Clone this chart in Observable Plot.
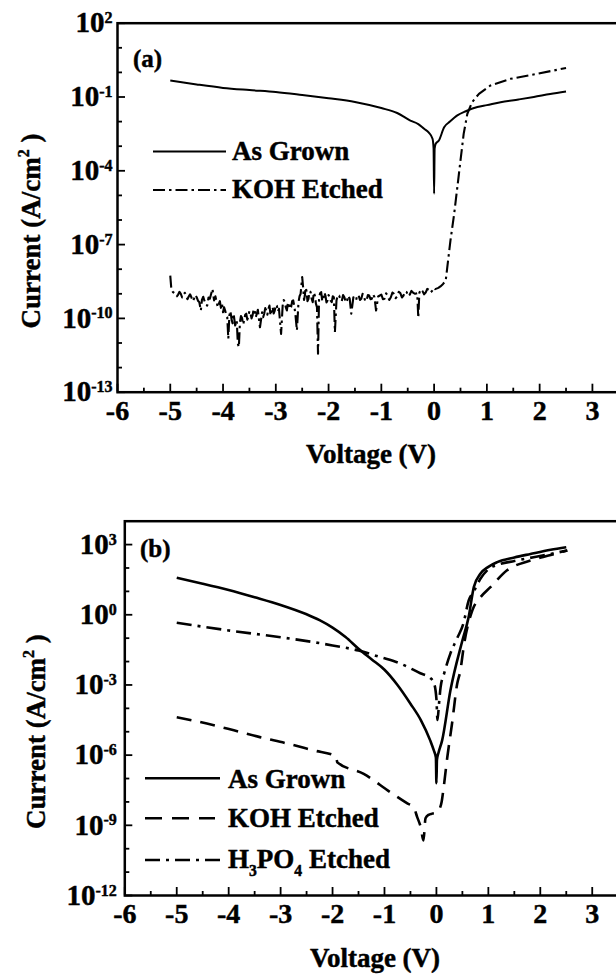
<!DOCTYPE html>
<html><head><meta charset="utf-8">
<script src="https://cdn.jsdelivr.net/npm/d3@7"></script>
<script src="https://cdn.jsdelivr.net/npm/@observablehq/plot@0.6"></script>
<style>
html,body{margin:0;padding:0;background:#fff;overflow:hidden;width:616px;height:977px;}
#wrap{position:relative;width:616px;height:977px;overflow:hidden;}
.panel{width:616px;overflow:hidden;}
svg{display:block;max-width:none !important;}
svg text{stroke:#000;stroke-width:0.45px;}
</style></head><body><div id="wrap"><div class="panel" id="pa" style="height:480px"></div><div class="panel" id="pb" style="height:497px"></div></div>
<script>
// ---------------- shared axis values ----------------
const xMajor = [-6,-5,-4,-3,-2,-1,0,1,2,3];
const xMinor = [-5.5,-4.5,-3.5,-2.5,-1.5,-0.5,0.5,1.5,2.5];

// ---------------- panel (a) ----------------
const aYMajor = [1e2,1e-1,1e-4,1e-7,1e-10,1e-13];
const aYMinor = [1e1,1e0,1e-2,1e-3,1e-5,1e-6,1e-8,1e-9,1e-11,1e-12];
// As Grown: voltage (V) and log10 current density
const aGrownV   = [-5,-4.5,-4,-3.5,-3,-2.5,-2,-1.5,-1,-0.7,-0.45,-0.3,-0.19,-0.1,-0.03,-0.01,0,0.01,0.03,0.09,0.19,0.3,0.44,0.6,0.82,1.0,1.26,1.6,1.89,2.2,2.5];
const aGrownLog = [-0.33,-0.49,-0.63,-0.72,-0.80,-0.92,-1.05,-1.2,-1.45,-1.65,-1.96,-2.1,-2.29,-2.45,-2.7,-3.1,-4.93,-3.1,-2.9,-2.77,-2.23,-2.0,-1.75,-1.58,-1.41,-1.33,-1.21,-1.1,-1.0,-0.88,-0.78];
// KOH Etched: [voltage, log10 current density] read point by point (noisy trace)
const aKohPairs = [
[-5.00,-8.26],[-4.98,-8.80],[-4.95,-8.93],[-4.90,-9.00],[-4.875,-9.10],[-4.85,-9.03],[-4.825,-8.92],[-4.80,-9.00],
[-4.775,-9.15],[-4.75,-9.07],[-4.725,-8.96],[-4.70,-9.04],[-4.675,-9.22],[-4.65,-9.11],[-4.625,-9.02],[-4.60,-9.14],
[-4.575,-9.30],[-4.55,-9.20],[-4.525,-9.05],[-4.50,-9.14],[-4.475,-9.28],[-4.45,-9.34],[-4.42,-9.68],[-4.40,-9.25],
[-4.375,-9.12],[-4.35,-9.30],[-4.325,-9.45],[-4.30,-9.48],[-4.275,-9.15],[-4.25,-9.20],[-4.20,-8.80],[-4.17,-9.27],
[-4.145,-9.10],[-4.12,-9.34],[-4.10,-9.55],[-4.08,-9.41],[-4.06,-9.30],[-4.04,-9.57],[-4.02,-9.40],[-4.00,-9.75],
[-3.98,-9.55],[-3.96,-9.68],[-3.94,-9.85],[-3.92,-9.95],[-3.90,-10.83],[-3.88,-9.88],[-3.86,-9.70],[-3.84,-10.02],
[-3.82,-10.20],[-3.80,-9.81],[-3.77,-10.29],[-3.74,-10.09],[-3.72,-11.03],[-3.70,-11.17],[-3.68,-10.15],[-3.66,-9.90],
[-3.64,-9.98],[-3.62,-10.25],[-3.60,-10.09],[-3.58,-9.85],[-3.56,-9.81],[-3.54,-10.05],[-3.52,-9.92],[-3.50,-9.70],
[-3.48,-9.79],[-3.46,-10.00],[-3.44,-9.88],[-3.42,-9.62],[-3.40,-9.68],[-3.38,-9.95],[-3.36,-9.81],[-3.34,-9.65],
[-3.32,-10.02],[-3.30,-10.36],[-3.26,-9.75],[-3.24,-9.95],[-3.22,-9.81],[-3.20,-9.58],[-3.18,-9.68],[-3.16,-9.85],
[-3.14,-9.61],[-3.12,-9.48],[-3.10,-9.88],[-3.08,-9.65],[-3.06,-9.54],[-3.04,-9.80],[-3.02,-9.68],[-3.00,-9.45],
[-2.98,-9.48],[-2.96,-9.72],[-2.94,-9.61],[-2.90,-10.63],[-2.87,-9.48],[-2.85,-9.25],[-2.83,-9.34],[-2.81,-9.55],
[-2.79,-9.68],[-2.77,-9.35],[-2.75,-9.41],[-2.73,-9.62],[-2.71,-9.54],[-2.69,-9.30],[-2.67,-9.27],[-2.65,-9.50],
[-2.63,-9.81],[-2.60,-10.49],[-2.57,-9.34],[-2.55,-9.10],[-2.53,-9.00],[-2.50,-8.32],[-2.48,-8.80],[-2.465,-9.25],
[-2.45,-9.07],[-2.435,-8.75],[-2.42,-8.87],[-2.40,-9.30],[-2.38,-9.20],[-2.36,-8.90],[-2.34,-8.93],[-2.32,-9.20],
[-2.30,-9.34],[-2.28,-8.95],[-2.26,-9.07],[-2.24,-9.40],[-2.22,-9.54],[-2.20,-11.44],[-2.18,-9.14],[-2.16,-8.98],
[-2.14,-8.93],[-2.12,-9.30],[-2.10,-9.20],[-2.08,-8.95],[-2.06,-9.07],[-2.04,-9.35],[-2.02,-9.27],[-2.00,-9.05],
[-1.98,-9.14],[-1.96,-9.28],[-1.94,-9.34],[-1.92,-9.10],[-1.90,-9.14],[-1.88,-10.56],[-1.85,-9.27],[-1.825,-9.05],
[-1.80,-9.07],[-1.775,-9.22],[-1.75,-9.30],[-1.725,-9.05],[-1.70,-9.14],[-1.675,-9.35],[-1.65,-9.27],[-1.625,-9.08],
[-1.60,-9.20],[-1.57,-9.81],[-1.53,-9.14],[-1.48,-9.27],[-1.455,-9.05],[-1.43,-9.07],[-1.405,-9.25],[-1.38,-9.20],
[-1.355,-9.00],[-1.33,-9.11],[-1.305,-9.30],[-1.28,-9.27],[-1.255,-9.05],[-1.23,-9.07],[-1.205,-9.22],[-1.18,-9.20],
[-1.155,-9.02],[-1.13,-9.14],[-1.10,-9.68],[-1.06,-9.11],[-1.00,-9.03],[-0.97,-9.22],[-0.94,-9.20],[-0.91,-8.98],
[-0.88,-9.07],[-0.85,-9.25],[-0.82,-9.14],[-0.79,-8.95],[-0.76,-9.00],[-0.73,-9.18],[-0.70,-9.11],[-0.67,-8.92],
[-0.64,-8.97],[-0.61,-9.15],[-0.58,-9.07],[-0.55,-8.90],[-0.52,-8.93],[-0.49,-9.10],[-0.46,-9.03],[-0.43,-8.88],
[-0.40,-8.95],[-0.36,-9.00],[-0.32,-8.98],[-0.30,-9.98],[-0.28,-8.96],[-0.25,-8.82],[-0.22,-8.89],[-0.19,-9.02],
[-0.16,-8.95],[-0.13,-8.80],[-0.10,-8.84],[-0.07,-8.95],[-0.04,-8.89],[-0.01,-8.76],[0.02,-8.81],[0.08,-8.76],
[0.12,-8.70],[0.17,-8.60],[0.22,-8.46],[0.25,-7.92],[0.31,-6.83],[0.38,-5.75],[0.44,-4.67],[0.50,-3.58],
[0.56,-2.50],[0.63,-1.68],[0.72,-1.21],[0.85,-0.87],[1.07,-0.53],[1.45,-0.26],[1.95,-0.06],[2.50,0.18]];

// ---------------- panel (b) ----------------
const bYMajor = [1e3,1e0,1e-3,1e-6,1e-9,1e-12];
const bYMinor = [1e2,1e1,1e-1,1e-2,1e-4,1e-5,1e-7,1e-8,1e-10,1e-11];
const bGrownV   = [-5,-4.5,-4,-3.5,-3,-2.5,-2.25,-2,-1.75,-1.5,-1.25,-1,-0.75,-0.5,-0.3,-0.12,-0.05,-0.01,0,0.01,0.04,0.11,0.27,0.5,0.62,0.72,0.85,1.0,1.17,1.5,1.81,2.2,2.5];
const bGrownLog = [1.58,1.33,1.06,0.75,0.42,0.02,-0.23,-0.55,-0.95,-1.45,-1.9,-2.35,-3.0,-3.8,-4.5,-5.37,-5.8,-6.1,-7.2,-6.2,-5.9,-5.37,-3.23,-1.1,-0.1,1.18,1.76,2.05,2.25,2.45,2.6,2.78,2.89];
const bKohV   = [-5,-4.42,-3.9,-3.4,-2.88,-2.36,-1.93,-1.91,-1.4,-0.89,-0.56,-0.44,-0.37,-0.3,-0.25,-0.21,-0.15,-0.08,0,0.06,0.1,0.14,0.21,0.3,0.4,0.46,0.53,0.69,0.85,1.04,1.36,1.81,2.2,2.52];
const bKohLog = [-4.38,-4.65,-4.94,-5.23,-5.5,-5.8,-6.05,-6.3,-6.8,-7.58,-8.06,-8.22,-8.65,-9.1,-9.65,-8.7,-8.55,-8.5,-8.45,-8.3,-8.0,-7.37,-6.08,-4.66,-2.95,-2.4,-1.3,0.18,0.75,1.18,1.9,2.32,2.55,2.75];
const bH3V   = [-5,-4,-3,-2,-1.5,-1.08,-0.69,-0.31,-0.12,-0.05,0,0.02,0.05,0.08,0.15,0.27,0.4,0.52,0.62,0.72,0.85,1.0,1.2,1.5,1.87,2.2,2.52];
const bH3Log = [-0.34,-0.67,-0.96,-1.31,-1.53,-1.81,-2.09,-2.5,-2.7,-2.9,-3.6,-4.5,-3.8,-3.1,-2.5,-1.65,-1.0,-0.37,0.6,1.0,1.55,1.95,2.15,2.3,2.46,2.6,2.75];

const toPts = (V, L) => V.map((v, i) => ({v, j: Math.pow(10, L[i])}));
const pairPts = P => P.map(([v, l]) => ({v, j: Math.pow(10, l)}));
const FONT = '"Liberation Serif","Times New Roman",serif';

function richText(g, parts, attrs, size) {
  const t = g.append("text").attr("font-size", size).attr("font-family", FONT).attr("font-weight", "bold")
    .attr("fill", "black").attr("text-anchor", "start");
  for (const [k, v] of Object.entries(attrs)) t.attr(k, v);
  let shift = 0;
  for (const p of parts) {
    const ts = t.append("tspan").text(p.t);
    const target = p.sup ? -0.42 * size : p.sub ? 0.3 * size : 0;
    if (target !== shift) { ts.attr("dy", target - shift); shift = target; }
    if (p.sup || p.sub) ts.attr("font-size", size * 0.58);
  }
  return t;
}

function buildPanel(cfg) {
  const innerW = cfg.width - cfg.marginLeft - cfg.marginRight;
  const innerH = cfg.height - cfg.marginTop - cfg.marginBottom;
  const marks = [
    Plot.frame({stroke: "black", strokeWidth: 2.5}),
    Plot.tickY(cfg.yMinor, {y: d => d, insetRight: innerW - 5, stroke: "black", strokeWidth: 1.8}),
    Plot.tickY(cfg.yMajor, {y: d => d, insetRight: innerW - 8, stroke: "black", strokeWidth: 1.8}),
    Plot.tickX(xMinor, {x: d => d, insetTop: innerH - 4, stroke: "black", strokeWidth: 1.8}),
    Plot.tickX(xMajor, {x: d => d, insetTop: innerH - 8, stroke: "black", strokeWidth: 1.8}),
    Plot.axisY({ticks: cfg.yMajor, tickSize: 0, tickPadding: cfg.yPad, fontSize: 29,
      tickFormat: d => "10^" + Math.round(Math.log10(d)), label: null}),
    Plot.axisX({ticks: xMajor, tickSize: 0, tickPadding: cfg.xPad, fontSize: 28,
      tickFormat: d => String(d), label: null}),
    ...cfg.series.map(s => Plot.line(s.data, {x: "v", y: "j", stroke: "black", strokeWidth: s.w,
      strokeDasharray: s.dash, strokeLinejoin: "round", strokeLinecap: "butt", curve: s.curve || "linear"}))
  ];
  const svg = Plot.plot({
    width: cfg.width, height: cfg.height,
    marginTop: cfg.marginTop, marginBottom: cfg.marginBottom,
    marginLeft: cfg.marginLeft, marginRight: cfg.marginRight,
    x: {domain: [-6, 3.5]},
    y: {type: "log", domain: cfg.yDomain},
    style: {fontFamily: FONT, fontWeight: "bold", color: "black", background: "white", maxWidth: "none", overflow: "visible"},
    marks
  });
  const s = d3.select(svg);
  s.selectAll('g[aria-label="y-axis tick label"]').attr("font-size", 29);
  s.selectAll('g[aria-label="x-axis tick label"]').attr("font-size", 28);
  // superscript exponents on y tick labels
  s.selectAll('g[aria-label="y-axis tick label"] text').each(function () {
    const [base, exp] = this.textContent.split("^");
    const sel = d3.select(this);
    sel.text(null);
    sel.append("tspan").text(base);
    sel.append("tspan").attr("dy", "-0.58em").attr("font-size", "16px").text(exp);
  });
  return svg;
}

// ---------- Panel (a) ----------
const svgA = buildPanel({
  width: 640, height: 480, marginTop: 22.7, marginBottom: 88.3, marginLeft: 117, marginRight: 21.7,
  yDomain: [1e-13, 1e2], yMajor: aYMajor, yMinor: aYMinor, yPad: 5, xPad: 8,
  series: [
    {data: toPts(aGrownV, aGrownLog), w: 2, curve: "monotone-x"},
    {data: pairPts(aKohPairs), w: 2.1, dash: "12,4,2.5,4"}
  ]
});
document.getElementById("pa").appendChild(svgA);
{
  const g = d3.select(svgA).append("g");
  richText(g, [{t: "(a)"}], {x: 133, y: 67}, 25);
  g.append("line").attr("x1", 153).attr("x2", 226).attr("y1", 151.5).attr("y2", 151.5).attr("stroke", "black").attr("stroke-width", 2);
  richText(g, [{t: "As Grown"}], {x: 232, y: 160}, 27);
  g.append("line").attr("x1", 153).attr("x2", 226).attr("y1", 190).attr("y2", 190).attr("stroke", "black").attr("stroke-width", 1.8).attr("stroke-dasharray", "12,4,2.5,4");
  richText(g, [{t: "KOH Etched"}], {x: 232, y: 198}, 27);
  richText(g, [{t: "Current (A/cm"}, {t: "2", sup: true}, {t: " )"}], {transform: "translate(40,231) rotate(-90)", "text-anchor": "middle"}, 27);
  richText(g, [{t: "Voltage (V)"}], {x: 371, y: 463, "text-anchor": "middle"}, 27);
}

// ---------- Panel (b) ----------
const svgB = buildPanel({
  width: 640, height: 497, marginTop: 40.7, marginBottom: 82, marginLeft: 124.3, marginRight: 22.3,
  yDomain: [1e-12, 1e4], yMajor: bYMajor, yMinor: bYMinor, yPad: 8, xPad: 8,
  series: [
    {data: toPts(bGrownV, bGrownLog), w: 2.6, curve: "monotone-x"},
    {data: toPts(bKohV, bKohLog), w: 2.6, dash: "15,9", curve: "monotone-x"},
    {data: toPts(bH3V, bH3Log), w: 2.6, dash: "15,6,3,6", curve: "monotone-x"}
  ]
});
document.getElementById("pb").appendChild(svgB);
{
  const g = d3.select(svgB).append("g");
  richText(g, [{t: "(b)"}], {x: 140, y: 77}, 25);
  g.append("line").attr("x1", 145).attr("x2", 220).attr("y1", 298.3).attr("y2", 298.3).attr("stroke", "black").attr("stroke-width", 2.6);
  richText(g, [{t: "As Grown"}], {x: 228, y: 308}, 27);
  g.append("line").attr("x1", 145).attr("x2", 215).attr("y1", 338.3).attr("y2", 338.3).attr("stroke", "black").attr("stroke-width", 2.6).attr("stroke-dasharray", "17,10");
  richText(g, [{t: "KOH Etched"}], {x: 228, y: 346.7}, 27);
  g.append("line").attr("x1", 145).attr("x2", 222).attr("y1", 380).attr("y2", 380).attr("stroke", "black").attr("stroke-width", 2.6).attr("stroke-dasharray", "15,6,3,6");
  richText(g, [{t: "H"}, {t: "3", sub: true}, {t: "PO"}, {t: "4", sub: true}, {t: " Etched"}], {x: 228, y: 388}, 27);
  richText(g, [{t: "Current (A/cm"}, {t: "2", sup: true}, {t: " )"}], {transform: "translate(45,251.7) rotate(-90)", "text-anchor": "middle"}, 27);
  richText(g, [{t: "Voltage (V)"}], {x: 375, y: 487, "text-anchor": "middle"}, 27);
}
</script></body></html>
